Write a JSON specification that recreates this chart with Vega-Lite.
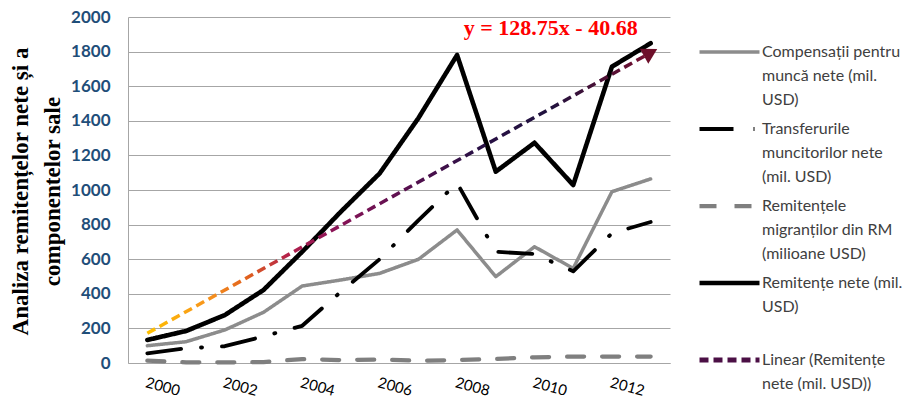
{
  "$schema": "https://vega.github.io/schema/vega-lite/v6.json",
  "width": 542,
  "height": 346,
  "autosize": {"type": "none"},
  "padding": {"left": 128, "top": 17, "right": 254, "bottom": 38},
  "background": "white",
  "config": {
    "view": {"stroke": null},
    "font": "Lato",
    "axisY": {"labelOverlap": false},
    "style": {"guide-label": {"lineHeight": 24}}
  },
  "datasets": {
    "series": [
      {"year": 2000, "series": "Compensații pentru muncă nete (mil. USD)", "value": 100},
      {"year": 2001, "series": "Compensații pentru muncă nete (mil. USD)", "value": 123},
      {"year": 2002, "series": "Compensații pentru muncă nete (mil. USD)", "value": 191},
      {"year": 2003, "series": "Compensații pentru muncă nete (mil. USD)", "value": 293},
      {"year": 2004, "series": "Compensații pentru muncă nete (mil. USD)", "value": 445},
      {"year": 2005, "series": "Compensații pentru muncă nete (mil. USD)", "value": 480},
      {"year": 2006, "series": "Compensații pentru muncă nete (mil. USD)", "value": 518},
      {"year": 2007, "series": "Compensații pentru muncă nete (mil. USD)", "value": 599},
      {"year": 2008, "series": "Compensații pentru muncă nete (mil. USD)", "value": 769},
      {"year": 2009, "series": "Compensații pentru muncă nete (mil. USD)", "value": 499},
      {"year": 2010, "series": "Compensații pentru muncă nete (mil. USD)", "value": 672},
      {"year": 2011, "series": "Compensații pentru muncă nete (mil. USD)", "value": 547},
      {"year": 2012, "series": "Compensații pentru muncă nete (mil. USD)", "value": 990},
      {"year": 2013, "series": "Compensații pentru muncă nete (mil. USD)", "value": 1064},
      {"year": 2000, "series": "Transferurile muncitorilor nete (mil. USD)", "value": 56},
      {"year": 2001, "series": "Transferurile muncitorilor nete (mil. USD)", "value": 85},
      {"year": 2002, "series": "Transferurile muncitorilor nete (mil. USD)", "value": 97},
      {"year": 2003, "series": "Transferurile muncitorilor nete (mil. USD)", "value": 154},
      {"year": 2004, "series": "Transferurile muncitorilor nete (mil. USD)", "value": 215},
      {"year": 2005, "series": "Transferurile muncitorilor nete (mil. USD)", "value": 412},
      {"year": 2006, "series": "Transferurile muncitorilor nete (mil. USD)", "value": 600},
      {"year": 2007, "series": "Transferurile muncitorilor nete (mil. USD)", "value": 825},
      {"year": 2008, "series": "Transferurile muncitorilor nete (mil. USD)", "value": 1040},
      {"year": 2009, "series": "Transferurile muncitorilor nete (mil. USD)", "value": 643},
      {"year": 2010, "series": "Transferurile muncitorilor nete (mil. USD)", "value": 630},
      {"year": 2011, "series": "Transferurile muncitorilor nete (mil. USD)", "value": 530},
      {"year": 2012, "series": "Transferurile muncitorilor nete (mil. USD)", "value": 750},
      {"year": 2013, "series": "Transferurile muncitorilor nete (mil. USD)", "value": 815},
      {"year": 2000, "series": "Remitențele migranților din RM (milioane USD)", "value": 14},
      {"year": 2001, "series": "Remitențele migranților din RM (milioane USD)", "value": 4},
      {"year": 2002, "series": "Remitențele migranților din RM (milioane USD)", "value": 4},
      {"year": 2003, "series": "Remitențele migranților din RM (milioane USD)", "value": 5},
      {"year": 2004, "series": "Remitențele migranților din RM (milioane USD)", "value": 23},
      {"year": 2005, "series": "Remitențele migranților din RM (milioane USD)", "value": 17},
      {"year": 2006, "series": "Remitențele migranților din RM (milioane USD)", "value": 20},
      {"year": 2007, "series": "Remitențele migranților din RM (milioane USD)", "value": 13},
      {"year": 2008, "series": "Remitențele migranților din RM (milioane USD)", "value": 17},
      {"year": 2009, "series": "Remitențele migranților din RM (milioane USD)", "value": 23},
      {"year": 2010, "series": "Remitențele migranților din RM (milioane USD)", "value": 33},
      {"year": 2011, "series": "Remitențele migranților din RM (milioane USD)", "value": 37},
      {"year": 2012, "series": "Remitențele migranților din RM (milioane USD)", "value": 37},
      {"year": 2013, "series": "Remitențele migranților din RM (milioane USD)", "value": 37},
      {"year": 2000, "series": "Remitențe nete (mil. USD)", "value": 133},
      {"year": 2001, "series": "Remitențe nete (mil. USD)", "value": 185},
      {"year": 2002, "series": "Remitențe nete (mil. USD)", "value": 277},
      {"year": 2003, "series": "Remitențe nete (mil. USD)", "value": 422},
      {"year": 2004, "series": "Remitențe nete (mil. USD)", "value": 643},
      {"year": 2005, "series": "Remitențe nete (mil. USD)", "value": 875},
      {"year": 2006, "series": "Remitențe nete (mil. USD)", "value": 1096},
      {"year": 2007, "series": "Remitențe nete (mil. USD)", "value": 1415},
      {"year": 2008, "series": "Remitențe nete (mil. USD)", "value": 1780},
      {"year": 2009, "series": "Remitențe nete (mil. USD)", "value": 1106},
      {"year": 2010, "series": "Remitențe nete (mil. USD)", "value": 1273},
      {"year": 2011, "series": "Remitențe nete (mil. USD)", "value": 1029},
      {"year": 2012, "series": "Remitențe nete (mil. USD)", "value": 1713},
      {"year": 2013, "series": "Remitențe nete (mil. USD)", "value": 1848}
    ],
    "trend": [
      {"year": 2000, "trend": 172},
      {"year": 2013, "trend": 1794}
    ]
  },
  "layer": [
    {
      "data": {"name": "series"},
      "mark": {"type": "line", "strokeCap": "round", "strokeJoin": "round"},
      "encoding": {
        "x": {
          "field": "year",
          "type": "ordinal",
          "scale": {"type": "point", "padding": 0.5},
          "axis": {
            "values": [2000, 2002, 2004, 2006, 2008, 2010, 2012],
            "title": null,
            "grid": false,
            "ticks": false,
            "domain": true,
            "domainColor": "#A6A6A6",
            "domainWidth": 1,
            "labelAngle": 15,
            "labelAlign": "left",
            "labelBaseline": "top",
            "labelFont": "Lato",
            "labelFontSize": 15,
            "labelColor": "#000000",
            "labelPadding": 12
          }
        },
        "y": {
          "field": "value",
          "type": "quantitative",
          "scale": {"domain": [0, 2000], "nice": false},
          "axis": {
            "tickCount": 10,
            "format": "d",
            "labelOverlap": false,
            "labelSeparation": 0,
            "grid": true,
            "gridColor": "#A6A6A6",
            "gridWidth": 1,
            "domain": true,
            "domainColor": "#A6A6A6",
            "ticks": false,
            "labelFont": "Lato",
            "labelFontWeight": "bold",
            "labelFontSize": 17,
            "labelColor": "#1F4E79",
            "labelPadding": 18,
            "title": ["Analiza  remitențelor nete și a", "componentelor sale"],
            "titleFont": "Liberation Serif",
            "titleFontSize": 23,
            "titleFontWeight": "bold",
            "titleColor": "#000000",
            "titleLineHeight": 32,
            "titleAngle": -90,
            "titleAlign": "center",
            "titleBaseline": "middle",
            "titleX": -108,
            "titleY": 174
          }
        },
        "color": {
          "field": "series",
          "type": "nominal",
          "scale": {
            "domain": [
              "Compensații pentru muncă nete (mil. USD)",
              "Transferurile muncitorilor nete (mil. USD)",
              "Remitențele migranților din RM (milioane USD)",
              "Remitențe nete (mil. USD)",
              "Linear (Remitențe nete (mil. USD))"
            ],
            "range": ["#8C8C8C", "#000000", "#7F7F7F", "#000000", "#4B0F45"]
          },
          "legend": {
            "orient": "none",
            "legendX": 569,
            "legendY": 27,
            "title": null,
            "symbolType": "stroke",
            "symbolSize": 3600,
            "clipHeight": 16,
            "labelFont": "Lato",
            "labelFontSize": 16,
            "labelColor": "#404040",
            "labelLimit": 0,
            "labelBaseline": "middle",
            "labelOffset": 0,
            "rowPadding": 13,
            "labelExpr": "datum.label == 'Compensații pentru muncă nete (mil. USD)' ? ['Compensații pentru', 'muncă nete (mil.', 'USD)'] : datum.label == 'Transferurile muncitorilor nete (mil. USD)' ? ['Transferurile', 'muncitorilor nete', '(mil. USD)'] : datum.label == 'Remitențele migranților din RM (milioane USD)' ? ['Remitențele', 'migranților din RM', '(milioane USD)'] : datum.label == 'Remitențe nete (mil. USD)' ? ['Remitențe nete (mil.', 'USD)', ''] : ['Linear (Remitențe', 'nete (mil. USD))', '']"
          }
        },
        "strokeDash": {
          "field": "series",
          "type": "nominal",
          "scale": {
            "domain": [
              "Compensații pentru muncă nete (mil. USD)",
              "Transferurile muncitorilor nete (mil. USD)",
              "Remitențele migranților din RM (milioane USD)",
              "Remitențe nete (mil. USD)",
              "Linear (Remitențe nete (mil. USD))"
            ],
            "range": [[1, 0], [34, 20, 1, 20], [17, 18], [1, 0], [9, 5]]
          }
        },
        "strokeWidth": {
          "field": "series",
          "type": "nominal",
          "scale": {
            "domain": [
              "Compensații pentru muncă nete (mil. USD)",
              "Transferurile muncitorilor nete (mil. USD)",
              "Remitențele migranților din RM (milioane USD)",
              "Remitențe nete (mil. USD)",
              "Linear (Remitențe nete (mil. USD))"
            ],
            "range": [3.5, 5, 5.5, 3, 3.5]
          }
        }
      }
    },
    {
      "data": {"name": "trend"},
      "mark": {
        "type": "line",
        "strokeWidth": 3.5,
        "strokeDash": [9, 5],
        "stroke": {
          "gradient": "linear",
          "x1": 0, "y1": 0, "x2": 1, "y2": 0,
          "stops": [
            {"offset": 0, "color": "#FFC000"},
            {"offset": 0.12, "color": "#F7941D"},
            {"offset": 0.2, "color": "#E0601E"},
            {"offset": 0.28, "color": "#B3204A"},
            {"offset": 0.36, "color": "#8E1457"},
            {"offset": 0.5, "color": "#5E1050"},
            {"offset": 0.65, "color": "#2A1045"},
            {"offset": 0.8, "color": "#20123E"},
            {"offset": 0.9, "color": "#4A1035"},
            {"offset": 1, "color": "#7A1030"}
          ]
        }
      },
      "encoding": {
        "x": {"field": "year", "type": "ordinal"},
        "y": {"field": "trend", "type": "quantitative"}
      }
    },
    {
      "data": {"name": "trend"},
      "transform": [{"filter": "datum.year == 2013"}],
      "mark": {
        "type": "point",
        "shape": "triangle-right",
        "angle": -29,
        "size": 300,
        "filled": true,
        "opacity": 1,
        "color": "#6E0F2A"
      },
      "encoding": {
        "x": {"field": "year", "type": "ordinal"},
        "y": {"field": "trend", "type": "quantitative"}
      }
    },
    {
      "data": {"name": "trend"},
      "transform": [{"filter": "datum.year == 2013"}],
      "mark": {
        "type": "text",
        "text": "y = 128.75x - 40.68",
        "font": "Liberation Serif",
        "fontSize": 22,
        "fontWeight": "bold",
        "color": "#FF0000",
        "align": "right",
        "baseline": "alphabetic",
        "dx": -13,
        "dy": -18
      },
      "encoding": {
        "x": {"field": "year", "type": "ordinal"},
        "y": {"field": "trend", "type": "quantitative"}
      }
    }
  ]
}
